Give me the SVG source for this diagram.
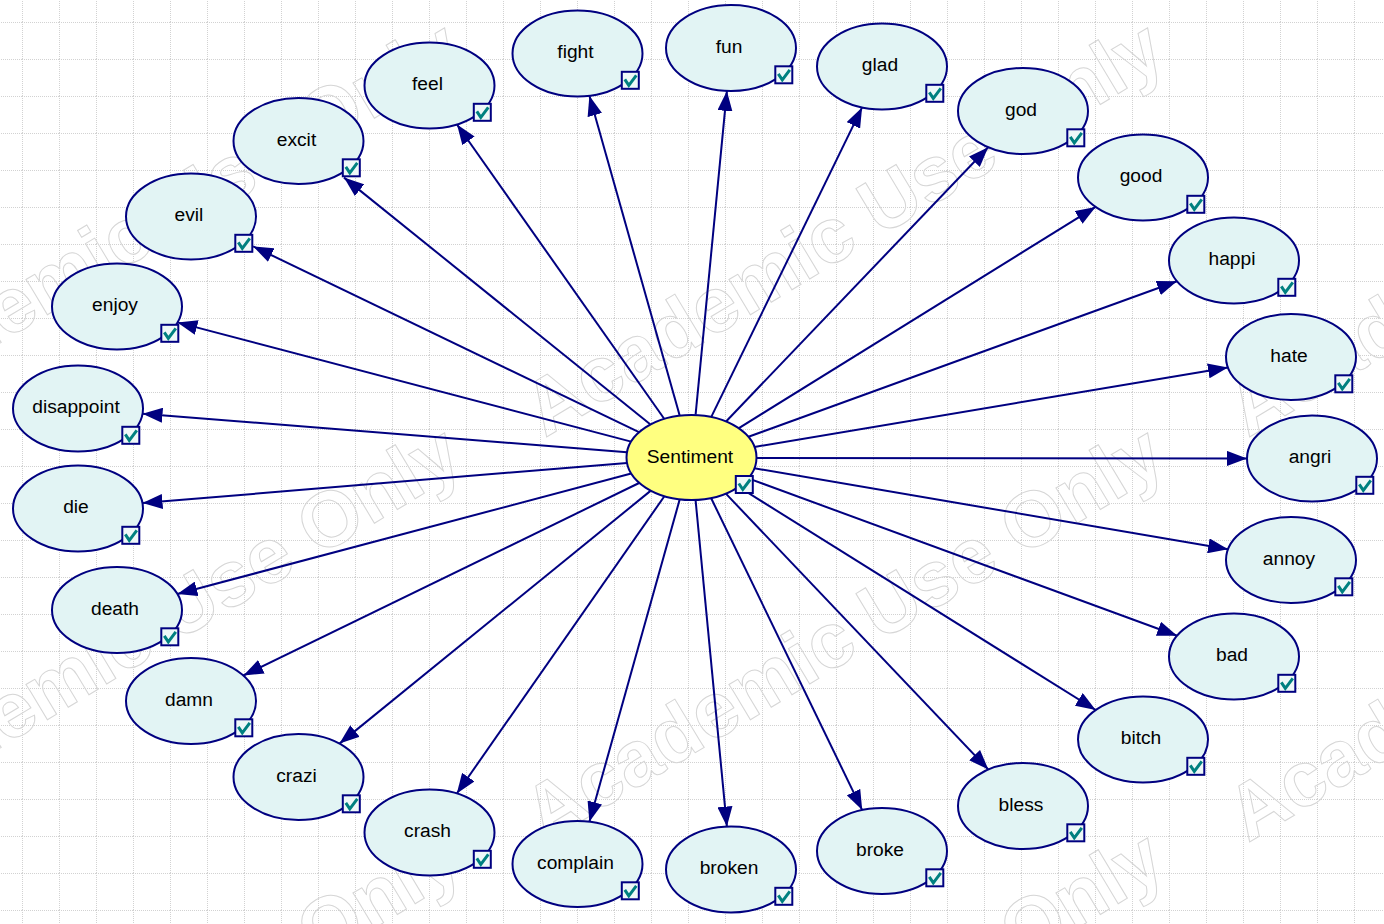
<svg xmlns="http://www.w3.org/2000/svg" xmlns:xlink="http://www.w3.org/1999/xlink" width="1384" height="924" viewBox="0 0 1384 924">
  <style>
    .wm { font-family: "Liberation Sans", Arial, sans-serif; font-weight: bold; font-size: 78px; fill: none; stroke: #d6d6d6; stroke-width: 1; }
    .edge { stroke: #000080; stroke-width: 2; fill: none; marker-end: url(#arrow); }
    .node ellipse { fill: #e2f4f4; stroke: #000080; stroke-width: 2; }
    #n-Sentiment ellipse { fill: #ffff80; }
    .node text { font-family: "Liberation Sans", Arial, sans-serif; font-size: 19.2px; fill: #000000; text-anchor: middle; }
  </style>
  <defs>
    <pattern id="grid" x="22" y="22" width="37" height="37" patternUnits="userSpaceOnUse">
      <path d="M0.5 0 V37 M0 0.5 H37" stroke="#d2d2d2" stroke-width="1" stroke-dasharray="1 1" fill="none"/>
    </pattern>
    <marker id="arrow" markerUnits="userSpaceOnUse" markerWidth="21" markerHeight="15" viewBox="0 0 21 15" refX="20" refY="7.5" orient="auto">
      <path d="M0 0 L20 7.5 L0 15 Z" fill="#000080"/>
    </marker>
    <g id="chk">
      <rect x="1" y="1" width="17" height="17" fill="#eef8f8" stroke="#000080" stroke-width="2"/>
      <polyline points="4,8.5 8,14.5 15.5,4.5" fill="none" stroke="#008080" stroke-width="3"/>
    </g>
  </defs>

  <!-- background and grid -->
  <rect width="1384" height="924" fill="#ffffff"/>
  <rect width="1384" height="924" fill="url(#grid)"/>

  <!-- watermark -->
  <g id="watermark">
    <text class="wm" transform="translate(-158,438) rotate(-31)">Academic Use Only</text>
    <text class="wm" transform="translate(545,438) rotate(-31)">Academic Use Only</text>
    <text class="wm" transform="translate(1248,438) rotate(-31)">Academic Use Only</text>
    <text class="wm" transform="translate(-158,843) rotate(-31)">Academic Use Only</text>
    <text class="wm" transform="translate(545,843) rotate(-31)">Academic Use Only</text>
    <text class="wm" transform="translate(1248,843) rotate(-31)">Academic Use Only</text>
    <text class="wm" transform="translate(-158,1248) rotate(-31)">Academic Use Only</text>
    <text class="wm" transform="translate(545,1248) rotate(-31)">Academic Use Only</text>
  </g>

  <!-- connectors: Sentiment to each word node -->
  <g id="connectors">
    <line class="edge" x1="679.6" y1="415.2" x2="589.4" y2="95.8"/>
    <line class="edge" x1="695.6" y1="414.6" x2="726.9" y2="90.9"/>
    <line class="edge" x1="711.4" y1="416.6" x2="862.1" y2="107.4"/>
    <line class="edge" x1="726.3" y1="421.2" x2="988.2" y2="147.3"/>
    <line class="edge" x1="738.9" y1="428.1" x2="1095.6" y2="206.9"/>
    <line class="edge" x1="748.5" y1="436.8" x2="1177.0" y2="281.2"/>
    <line class="edge" x1="754.5" y1="446.9" x2="1228.0" y2="367.6"/>
    <line class="edge" x1="756.5" y1="458.0" x2="1247.0" y2="458.4"/>
    <line class="edge" x1="754.4" y1="468.3" x2="1228.1" y2="549.2"/>
    <line class="edge" x1="748.3" y1="478.4" x2="1177.2" y2="635.7"/>
    <line class="edge" x1="738.8" y1="487.0" x2="1095.7" y2="710.0"/>
    <line class="edge" x1="726.1" y1="493.9" x2="988.4" y2="769.6"/>
    <line class="edge" x1="711.3" y1="498.5" x2="862.2" y2="810.1"/>
    <line class="edge" x1="695.6" y1="500.4" x2="726.9" y2="826.6"/>
    <line class="edge" x1="679.6" y1="499.8" x2="589.4" y2="821.7"/>
    <line class="edge" x1="664.2" y1="496.5" x2="456.8" y2="793.5"/>
    <line class="edge" x1="650.5" y1="490.9" x2="339.5" y2="743.6"/>
    <line class="edge" x1="639.1" y1="483.0" x2="243.4" y2="675.5"/>
    <line class="edge" x1="631.2" y1="473.5" x2="177.3" y2="594.0"/>
    <line class="edge" x1="627.0" y1="462.9" x2="142.5" y2="503.1"/>
    <line class="edge" x1="627.0" y1="452.3" x2="142.5" y2="413.7"/>
    <line class="edge" x1="631.1" y1="441.6" x2="177.4" y2="322.4"/>
    <line class="edge" x1="639.0" y1="432.2" x2="253.2" y2="246.4"/>
    <line class="edge" x1="650.2" y1="424.3" x2="344.0" y2="177.6"/>
    <line class="edge" x1="664.0" y1="418.5" x2="457.0" y2="124.5"/>
  </g>

  <!-- nodes -->
  <g id="n-fight" class="node"><ellipse cx="577.5" cy="53.5" rx="65" ry="43"/><text x="575.5" y="58">fight</text><use href="#chk" x="620.8" y="70.8"/></g>
  <g id="n-fun" class="node"><ellipse cx="731" cy="48" rx="65" ry="43"/><text x="729" y="52.5">fun</text><use href="#chk" x="774.3" y="65.3"/></g>
  <g id="n-glad" class="node"><ellipse cx="882" cy="66.5" rx="65" ry="43"/><text x="880" y="71">glad</text><use href="#chk" x="925.3" y="83.8"/></g>
  <g id="n-god" class="node"><ellipse cx="1023" cy="111" rx="65" ry="43"/><text x="1021" y="115.5">god</text><use href="#chk" x="1066.3" y="128.3"/></g>
  <g id="n-good" class="node"><ellipse cx="1143" cy="177.5" rx="65" ry="43"/><text x="1141" y="182">good</text><use href="#chk" x="1186.3" y="194.8"/></g>
  <g id="n-happi" class="node"><ellipse cx="1234" cy="260.5" rx="65" ry="43"/><text x="1232" y="265">happi</text><use href="#chk" x="1277.3" y="277.8"/></g>
  <g id="n-hate" class="node"><ellipse cx="1291" cy="357" rx="65" ry="43"/><text x="1289" y="361.5">hate</text><use href="#chk" x="1334.3" y="374.3"/></g>
  <g id="n-angri" class="node"><ellipse cx="1312" cy="458.5" rx="65" ry="43"/><text x="1310" y="463">angri</text><use href="#chk" x="1355.3" y="475.8"/></g>
  <g id="n-annoy" class="node"><ellipse cx="1291" cy="560" rx="65" ry="43"/><text x="1289" y="564.5">annoy</text><use href="#chk" x="1334.3" y="577.3"/></g>
  <g id="n-bad" class="node"><ellipse cx="1234" cy="656.5" rx="65" ry="43"/><text x="1232" y="661">bad</text><use href="#chk" x="1277.3" y="673.8"/></g>
  <g id="n-bitch" class="node"><ellipse cx="1143" cy="739.5" rx="65" ry="43"/><text x="1141" y="744">bitch</text><use href="#chk" x="1186.3" y="756.8"/></g>
  <g id="n-bless" class="node"><ellipse cx="1023" cy="806" rx="65" ry="43"/><text x="1021" y="810.5">bless</text><use href="#chk" x="1066.3" y="823.3"/></g>
  <g id="n-broke" class="node"><ellipse cx="882" cy="851" rx="65" ry="43"/><text x="880" y="855.5">broke</text><use href="#chk" x="925.3" y="868.3"/></g>
  <g id="n-broken" class="node"><ellipse cx="731" cy="869.5" rx="65" ry="43"/><text x="729" y="874">broken</text><use href="#chk" x="774.3" y="886.8"/></g>
  <g id="n-complain" class="node"><ellipse cx="577.5" cy="864" rx="65" ry="43"/><text x="575.5" y="868.5">complain</text><use href="#chk" x="620.8" y="881.3"/></g>
  <g id="n-crash" class="node"><ellipse cx="429.5" cy="832.5" rx="65" ry="43"/><text x="427.5" y="837">crash</text><use href="#chk" x="472.8" y="849.8"/></g>
  <g id="n-crazi" class="node"><ellipse cx="298.5" cy="777" rx="65" ry="43"/><text x="296.5" y="781.5">crazi</text><use href="#chk" x="341.8" y="794.3"/></g>
  <g id="n-damn" class="node"><ellipse cx="191" cy="701" rx="65" ry="43"/><text x="189" y="705.5">damn</text><use href="#chk" x="234.3" y="718.3"/></g>
  <g id="n-death" class="node"><ellipse cx="117" cy="610" rx="65" ry="43"/><text x="115" y="614.5">death</text><use href="#chk" x="160.3" y="627.3"/></g>
  <g id="n-die" class="node"><ellipse cx="78" cy="508.5" rx="65" ry="43"/><text x="76" y="513">die</text><use href="#chk" x="121.3" y="525.8"/></g>
  <g id="n-disappoint" class="node"><ellipse cx="78" cy="408.5" rx="65" ry="43"/><text x="76" y="413">disappoint</text><use href="#chk" x="121.3" y="425.8"/></g>
  <g id="n-enjoy" class="node"><ellipse cx="117" cy="306.5" rx="65" ry="43"/><text x="115" y="311">enjoy</text><use href="#chk" x="160.3" y="323.8"/></g>
  <g id="n-evil" class="node"><ellipse cx="191" cy="216.5" rx="65" ry="43"/><text x="189" y="221">evil</text><use href="#chk" x="234.3" y="233.8"/></g>
  <g id="n-excit" class="node"><ellipse cx="298.5" cy="141" rx="65" ry="43"/><text x="296.5" y="145.5">excit</text><use href="#chk" x="341.8" y="158.3"/></g>
  <g id="n-feel" class="node"><ellipse cx="429.5" cy="85.5" rx="65" ry="43"/><text x="427.5" y="90">feel</text><use href="#chk" x="472.8" y="102.8"/></g>
  <g id="n-Sentiment" class="node"><ellipse cx="691.5" cy="457.5" rx="65" ry="42.5"/><text x="690" y="462.5">Sentiment</text><use href="#chk" x="734.8" y="475"/></g>
</svg>
